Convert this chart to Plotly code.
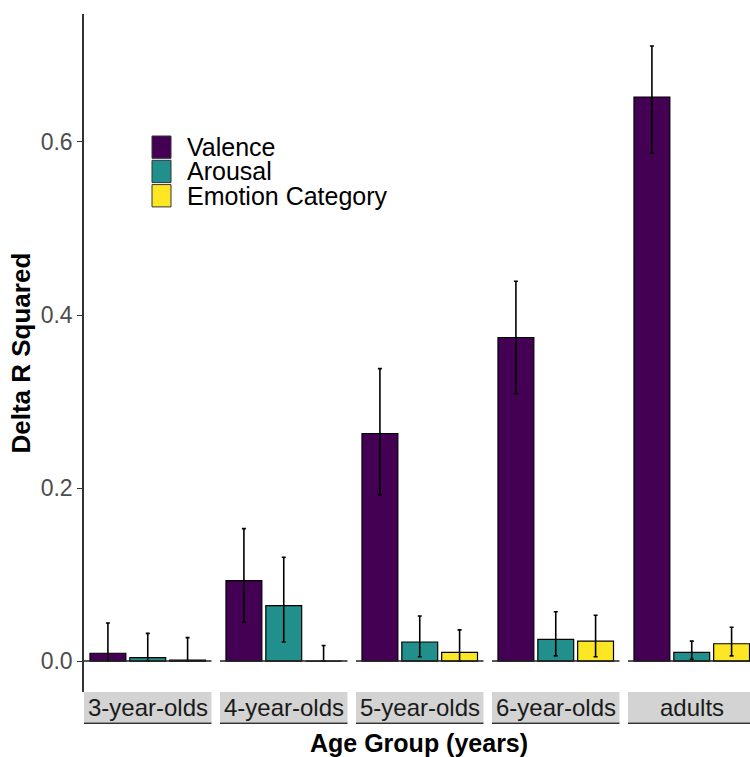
import plotly.graph_objects as go

# Age groups (facets) and predictors (bars within each facet)
age_groups = ["3-year-olds", "4-year-olds", "5-year-olds", "6-year-olds", "adults"]
predictors = ["Valence", "Arousal", "Emotion Category"]
colors = ["#440154", "#21908C", "#FDE725"]

# Delta R squared per predictor, one value per age group
valence = [0.009, 0.093, 0.263, 0.374, 0.652]
arousal = [0.004, 0.064, 0.022, 0.025, 0.010]
emotion = [0.001, 0.000, 0.010, 0.023, 0.020]

# Confidence interval bounds
valence_lo = [0.000, 0.045, 0.192, 0.309, 0.587]
valence_hi = [0.044, 0.153, 0.338, 0.439, 0.711]
arousal_lo = [0.000, 0.022, 0.005, 0.006, 0.002]
arousal_hi = [0.032, 0.120, 0.052, 0.057, 0.023]
emotion_lo = [0.000, 0.000, 0.000, 0.005, 0.006]
emotion_hi = [0.027, 0.018, 0.036, 0.053, 0.039]

y_ticks = [0.0, 0.2, 0.4, 0.6]

series = [
    (valence, valence_lo, valence_hi),
    (arousal, arousal_lo, arousal_hi),
    (emotion, emotion_lo, emotion_hi),
]

W, H = 750, 757
FONT = "Liberation Sans, Arial, Helvetica, sans-serif"


def px_x(v):
    return v / W


def px_y(v):
    return 1 - v / H


# Panel geometry (pixels)
panel_left = [84, 220, 356, 492, 628]
panel_w = 127.5
panel_top, panel_bottom = 14.3, 692
strip_bottom = 722.5
unit_px = panel_w / 3.2  # discrete scale: 3 slots plus 0.6 padding each side

fig = go.Figure()

for f, grp in enumerate(age_groups):
    ax = "" if f == 0 else str(f + 1)
    for s, (vals, lo, hi) in enumerate(series):
        v = vals[f]
        fig.add_trace(go.Bar(
            x=[s + 1], y=[v], width=0.9,
            marker=dict(color=colors[s], line=dict(color="black", width=1.2)),
            error_y=dict(type="data", symmetric=False,
                         array=[hi[f] - v], arrayminus=[v - lo[f]],
                         color="black", thickness=1.6, width=2),
            xaxis="x" + ax, yaxis="y", showlegend=False, name=predictors[s],
        ))

layout = dict(
    width=W, height=H,
    margin=dict(l=0, r=0, t=0, b=0),
    plot_bgcolor="white", paper_bgcolor="white",
    barmode="group",
    font=dict(family=FONT, color="black"),
    yaxis=dict(
        domain=[px_y(panel_bottom), px_y(panel_top)],
        range=[-0.0358, 0.7476],
        tickvals=y_ticks, ticktext=[f"{t:.1f}" for t in y_ticks],
        ticks="outside", ticklen=5, tickwidth=1.2, tickcolor="#333333",
        tickfont=dict(size=23, color="#4d4d4d", family=FONT),
        showline=True, linecolor="#333333", linewidth=1.5,
        showgrid=False, zeroline=False, anchor="x",
        title=dict(text="<b>Delta R Squared</b>", font=dict(size=26, family=FONT), standoff=3),
    ),
)

shapes = []
annotations = []
for f, grp in enumerate(age_groups):
    key = "xaxis" if f == 0 else f"xaxis{f + 1}"
    ax = "x" if f == 0 else f"x{f + 1}"
    left = panel_left[f]
    right = min(left + panel_w, W)
    hi_range = 0.4 + (right - left) / unit_px
    layout[key] = dict(
        domain=[px_x(left), px_x(right)], range=[0.4, hi_range],
        visible=False, anchor="y", fixedrange=True,
    )
    # zero baseline within the panel
    shapes.append(dict(type="line", xref=f"{ax} domain", yref="y",
                       x0=0, x1=1, y0=0, y1=0,
                       line=dict(color="#222222", width=1.5), layer="above"))
    # strip below the panel
    shapes.append(dict(type="rect", xref=f"{ax} domain", yref="paper",
                       x0=0, x1=1, y0=px_y(strip_bottom), y1=px_y(panel_bottom),
                       fillcolor="#d3d3d3", line=dict(width=0)))
    shapes.append(dict(type="line", xref=f"{ax} domain", yref="paper",
                       x0=0, x1=1, y0=px_y(strip_bottom + 0.8), y1=px_y(strip_bottom + 0.8),
                       line=dict(color="#333333", width=1.5)))
    annotations.append(dict(text=grp, xref=f"{ax} domain", yref="paper",
                            x=0.5 if f < 4 else 0.5 * (panel_w / (right - left)),
                            y=px_y((panel_bottom + strip_bottom) / 2),
                            showarrow=False, xanchor="center", yanchor="middle",
                            font=dict(size=24, color="#1a1a1a", family=FONT)))

# Legend drawn as keys inside the plot area
key_x0, key_x1 = 152, 171
key_top = 135
key_h = 24.3
for s, name in enumerate(predictors):
    t = key_top + s * key_h
    shapes.append(dict(type="rect", xref="paper", yref="paper",
                       x0=px_x(key_x0), x1=px_x(key_x1),
                       y0=px_y(t + key_h - 1), y1=px_y(t + 1),
                       fillcolor=colors[s], line=dict(color="#333333", width=1)))
    annotations.append(dict(text=name, xref="paper", yref="paper",
                            x=px_x(185), y=px_y(t + key_h / 2),
                            showarrow=False, xanchor="left", yanchor="middle",
                            font=dict(size=25, color="black", family=FONT)))

# x axis title
annotations.append(dict(text="<b>Age Group (years)</b>", xref="paper", yref="paper",
                        x=px_x(419), y=px_y(743), showarrow=False,
                        xanchor="center", yanchor="middle",
                        font=dict(size=25, color="black", family=FONT)))

layout["shapes"] = shapes
layout["annotations"] = annotations
fig.update_layout(**layout)

fig.write_html("out.html")
